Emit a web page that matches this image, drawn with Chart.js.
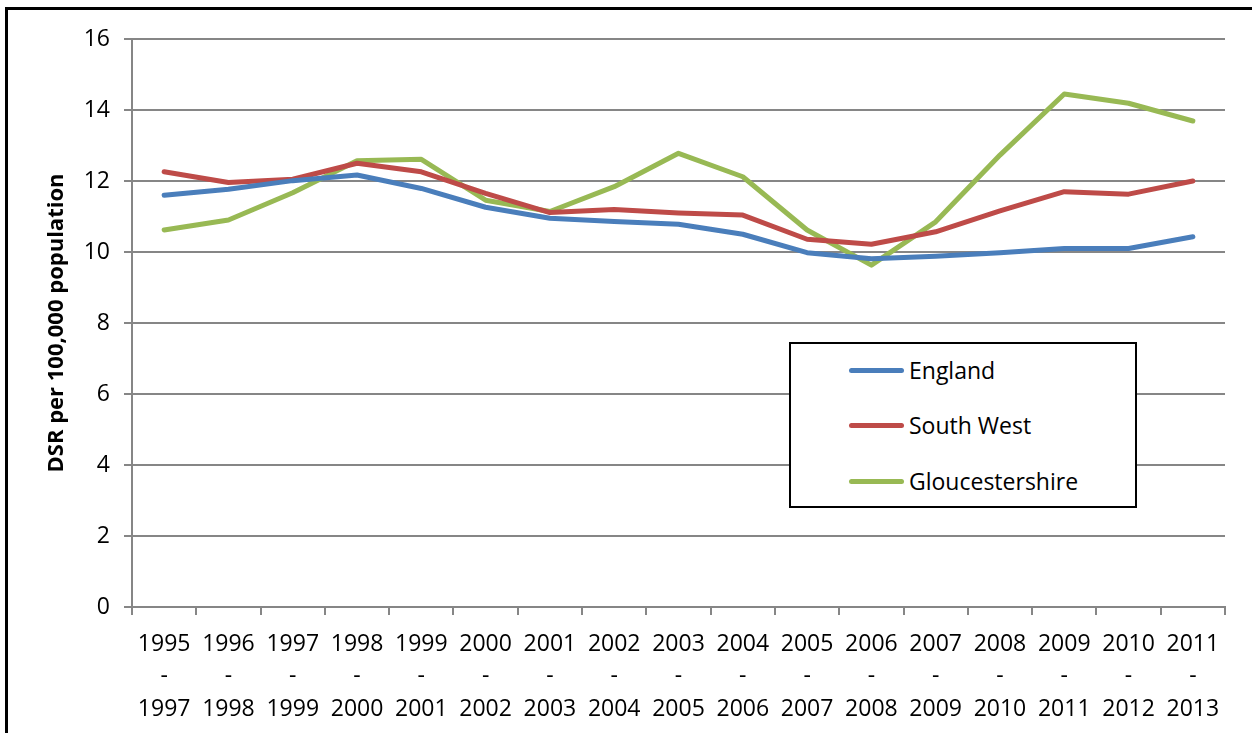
<!DOCTYPE html>
<html>
<head>
<meta charset="utf-8">
<script src="https://cdn.jsdelivr.net/npm/chart.js@4.4.0/dist/chart.umd.min.js"></script>
<style>
  html, body { margin: 0; padding: 0; background: #fff; }
  body { width: 1252px; height: 733px; position: relative; overflow: hidden; font-family: "Open Sans", sans-serif; }
  #frame { position: absolute; left: 5px; top: 7px; width: 1300px; height: 800px; border-left: 3px solid #000; border-top: 3px solid #000; }
  #wrap { position: absolute; left: 0; top: 0; width: 1252px; height: 733px; }
  #legend { position: absolute; left: 789px; top: 342px; width: 344px; height: 162px; border: 2px solid #000; background: #fff; }
  .item { position: absolute; left: 58px; height: 30px; display: flex; align-items: center; font-size: 23px; color: #000; }
  .swatch { width: 55px; height: 5px; border-radius: 3px; margin-right: 5px; }
</style>
</head>
<body>
<div id="frame"></div>
<div id="wrap"><canvas id="chart" width="1252" height="733"></canvas></div>
<div id="legend"></div>
<script>
const periods = [
  ['1995', '-', '1997'], ['1996', '-', '1998'], ['1997', '-', '1999'], ['1998', '-', '2000'],
  ['1999', '-', '2001'], ['2000', '-', '2002'], ['2001', '-', '2003'], ['2002', '-', '2004'],
  ['2003', '-', '2005'], ['2004', '-', '2006'], ['2005', '-', '2007'], ['2006', '-', '2008'],
  ['2007', '-', '2009'], ['2008', '-', '2010'], ['2009', '-', '2011'], ['2010', '-', '2012'],
  ['2011', '-', '2013']
];
const england = [11.6, 11.77, 12.01, 12.17, 11.79, 11.26, 10.95, 10.86, 10.78, 10.5, 9.98, 9.81, 9.88, 9.98, 10.1, 10.1, 10.43];
const southWest = [12.26, 11.96, 12.05, 12.5, 12.26, 11.65, 11.11, 11.2, 11.1, 11.04, 10.36, 10.22, 10.57, 11.16, 11.7, 11.63, 12.0];
const gloucestershire = [10.62, 10.9, 11.67, 12.57, 12.61, 11.46, 11.14, 11.84, 12.78, 12.12, 10.62, 9.63, 10.85, 12.73, 14.45, 14.19, 13.69];
const seriesNames = ['England', 'South West', 'Gloucestershire'];
const seriesColors = ['#4A7EBB', '#BE4B48', '#98B954'];
const yTicks = [0, 2, 4, 6, 8, 10, 12, 14, 16];
const yTitle = 'DSR per 100,000 population';

Chart.defaults.font.family = '"Open Sans", sans-serif';
Chart.defaults.color = '#000';

const values = [england, southWest, gloucestershire];
const datasets = seriesNames.map((name, i) => ({
  label: name,
  data: values[i],
  borderColor: seriesColors[i],
  backgroundColor: seriesColors[i],
  borderWidth: 5,
  borderCapStyle: 'round',
  borderJoinStyle: 'round',
  pointRadius: 0,
  tension: 0,
  fill: false
}));

const ctx = document.getElementById('chart').getContext('2d');
const chart = new Chart(ctx, {
  type: 'line',
  data: { labels: periods, datasets: datasets },
  options: {
    responsive: false,
    animation: false,
    layout: { padding: { top: 39, right: 27, left: 0, bottom: 0 } },
    plugins: { legend: { display: false }, tooltip: { enabled: false } },
    scales: {
      x: {
        offset: true,
        grid: { offset: true, drawOnChartArea: false, drawTicks: true, tickLength: 8, color: '#868686', lineWidth: 2 },
        border: { color: '#868686', width: 2 },
        ticks: { font: { size: 23, lineHeight: 1.413 }, maxRotation: 0, autoSkip: false, padding: 13, color: '#000' },
        afterFit: (s) => { s.height = 733 - 607; }
      },
      y: {
        min: 0,
        max: 16,
        afterBuildTicks: (s) => { s.ticks = yTicks.map(v => ({ value: v })); },
        grid: { color: '#868686', lineWidth: 2, tickLength: 8 },
        border: { color: '#868686', width: 2 },
        ticks: { font: { size: 23 }, padding: 14, color: '#000' },
        title: { display: true, text: yTitle, font: { size: 22, weight: 'bold' }, padding: { top: 44, bottom: 0 }, color: '#000' },
        afterFit: (s) => { s.width = 132; }
      }
    }
  }
});

const legend = document.getElementById('legend');
const rowCenters = [26, 81, 137];
chart.data.datasets.forEach((ds, i) => {
  const item = document.createElement('div');
  item.className = 'item';
  item.style.top = (rowCenters[i] - 15) + 'px';
  const sw = document.createElement('span');
  sw.className = 'swatch';
  sw.style.background = ds.borderColor;
  const txt = document.createElement('span');
  txt.textContent = ds.label;
  item.appendChild(sw);
  item.appendChild(txt);
  legend.appendChild(item);
});
</script>
</body>
</html>
